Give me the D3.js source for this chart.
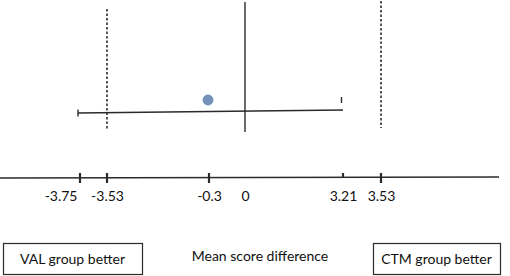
<!DOCTYPE html>
<html>
<head>
<meta charset="utf-8">
<script src="https://cdn.jsdelivr.net/npm/d3@7"></script>
<style>
  body { margin: 0; background: #fff; }
  text { font-family: Lato, "Open Sans", sans-serif; fill: #111; }
</style>
</head>
<body>
<div id="chart"></div>
<script>
// values
const tickValues = [-3.75, -3.53, -0.3, 0, 3.21, 3.53];
const tickLabels = ["-3.75", "-3.53", "-0.3", "0", "3.21", "3.53"];
const meanDiff = [-0.3];
const ciBounds = [-3.75, 3.21];
const equivMargins = [-3.53, 3.53];
const boxLabels = ["VAL group better", "CTM group better"];
const axisTitle = "Mean score difference";

const width = 510, height = 276;

const svg = d3.select("#chart")
  .append("svg")
  .attr("width", width)
  .attr("height", height);

// the drawing is schematic, so the scale is piecewise between the labelled values
const x = d3.scaleLinear()
  .domain(tickValues)
  .range([80, 107, 209, 245, 343, 381]);

const ink = "#2b2b2b";
const yCI = 111.5;

// equivalence margins (dashed)
svg.selectAll(".margin")
  .data(equivMargins)
  .join("line")
    .attr("class", "margin")
    .attr("x1", d => x(d)).attr("x2", d => x(d))
    .attr("y1", (d, i) => i == 0 ? 9 : 1)
    .attr("y2", (d, i) => i == 0 ? 130 : 128)
    .style("stroke", ink)
    .style("stroke-width", 1.6)
    .style("stroke-dasharray", "2.5,2");

// zero line
svg.append("line")
  .attr("x1", x(0)).attr("x2", x(0))
  .attr("y1", 2).attr("y2", 132)
  .style("stroke", ink)
  .style("stroke-width", 1.4);

// confidence interval
svg.append("line")
  .attr("x1", x(ciBounds[0]) - 2).attr("x2", x(ciBounds[1]))
  .attr("y1", yCI + 1.5).attr("y2", yCI - 1.5)
  .style("stroke", ink)
  .style("stroke-width", 1.4);

svg.append("line")
  .attr("x1", x(ciBounds[0]) - 2).attr("x2", x(ciBounds[0]) - 2)
  .attr("y1", yCI - 2).attr("y2", yCI + 5)
  .style("stroke", ink)
  .style("stroke-width", 1.4);

svg.append("line")
  .attr("x1", x(ciBounds[1]) - 1.5).attr("x2", x(ciBounds[1]) - 1.5)
  .attr("y1", 97).attr("y2", 103)
  .style("stroke", ink)
  .style("stroke-width", 1.4);

// point estimate
svg.selectAll(".mean")
  .data(meanDiff)
  .join("circle")
    .attr("class", "mean")
    .attr("cx", d => x(d) - 1)
    .attr("cy", 100)
    .attr("r", 5)
    .style("fill", "#7391ba")
    .style("stroke", "#6482ab")
    .style("stroke-width", 0.8);

// bottom axis
const axisY = 178;
svg.append("line")
  .attr("x1", 0).attr("x2", 499)
  .attr("y1", axisY).attr("y2", axisY - 1)
  .style("stroke", ink)
  .style("stroke-width", 1.4);

const axis = svg.append("g")
  .attr("transform", `translate(0, ${axisY})`)
  .call(d3.axisBottom(x)
    .tickValues(tickValues)
    .tickFormat((d, i) => tickLabels[i])
    .tickSize(0)
    .tickPadding(13));
axis.select(".domain").remove();
axis.selectAll("text")
  .style("font-size", "14px")
  .style("fill", "#111")
  .attr("text-anchor", d => d == -3.75 ? "end" : "middle")
  .attr("dx", d => d == -3.75 ? -3 : 0);

// tick marks (none at zero)
svg.selectAll(".tk")
  .data(tickValues.filter(d => d != 0))
  .join("line")
    .attr("class", "tk")
    .attr("x1", d => x(d)).attr("x2", d => x(d))
    .attr("y1", d => d == 3.21 ? axisY - 5 : axisY - 5)
    .attr("y2", d => d == 3.21 ? axisY : axisY + 5)
    .style("stroke", ink)
    .style("stroke-width", 2.2);

// labelled boxes
const boxes = [{x: 3, w: 139, label: boxLabels[0]}, {x: 373, w: 127, label: boxLabels[1]}];
svg.selectAll(".box")
  .data(boxes)
  .join("rect")
    .attr("class", "box")
    .attr("x", d => d.x + 0.5).attr("y", 243.5)
    .attr("width", d => d.w).attr("height", 31)
    .style("fill", "none")
    .style("stroke", ink)
    .style("stroke-width", 1.2);

svg.selectAll(".boxlabel")
  .data(boxes)
  .join("text")
    .attr("class", "boxlabel")
    .attr("x", d => d.x + d.w / 2)
    .attr("y", 264)
    .attr("text-anchor", "middle")
    .style("font-size", "14px")
    .text(d => d.label);

svg.append("text")
  .attr("x", 260)
  .attr("y", 261)
  .attr("text-anchor", "middle")
  .style("font-size", "14px")
  .text(axisTitle);
</script>
</body>
</html>
